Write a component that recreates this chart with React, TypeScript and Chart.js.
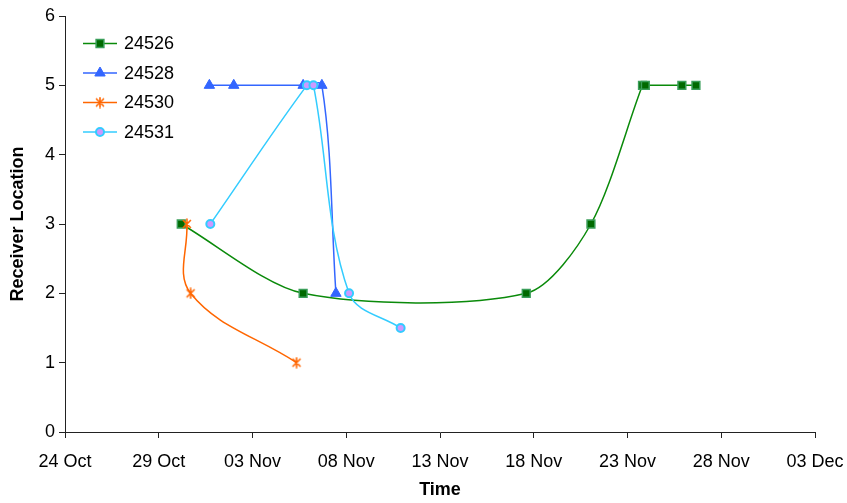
import { useEffect, useRef } from "react";
import { Chart, registerables } from "chart.js";
import { drawPoint } from "chart.js/helpers";

Chart.register(...registerables);

// Time axis: days after 24 Oct, labelled every 5 days
const dateLabels = ["24 Oct", "29 Oct", "03 Nov", "08 Nov", "13 Nov", "18 Nov", "23 Nov", "28 Nov", "03 Dec"];
const dayStep = 5;
const locationMin = 0;
const locationMax = 6;

// Detections per tag: day offset (from 24 Oct) and receiver location
const seriesNames = ["24526", "24528", "24530", "24531"];

const tag24526Days = [6.2, 12.7, 24.6, 28.05, 30.8, 30.95, 32.9, 33.65];
const tag24526Location = [3, 2, 2, 3, 5, 5, 5, 5];

const tag24528Days = [7.7, 9.0, 12.7, 13.7, 14.45];
const tag24528Location = [5, 5, 5, 5, 2];

const tag24530Days = [6.5, 6.7, 12.35];
const tag24530Location = [3, 2, 1];

const tag24531Days = [7.75, 12.9, 13.25, 15.15, 17.9];
const tag24531Location = [3, 5, 5, 2, 1.5];

const FONT = '"Liberation Sans", Arial, Helvetica, sans-serif';
const GREEN = "#0A8A0A";
const BLUE = "#3366FF";
const ORANGE = "#FF6600";
const CYAN = "#33CCFF";

const toPoints = (xs: number[], ys: number[]) => xs.map((x, i) => ({ x, y: ys[i] }));

// Six-armed asterisk marker
function makeAsterisk(color: string, size: number): HTMLCanvasElement {
  const c = document.createElement("canvas");
  c.width = size;
  c.height = size;
  const ctx = c.getContext("2d")!;
  ctx.strokeStyle = color;
  ctx.lineWidth = 1.6;
  ctx.lineCap = "round";
  const m = size / 2;
  const r = size / 2 - 1;
  const d = r * Math.SQRT1_2;
  ctx.beginPath();
  ctx.moveTo(m, m - r);
  ctx.lineTo(m, m + r);
  ctx.moveTo(m - d, m - d);
  ctx.lineTo(m + d, m + d);
  ctx.moveTo(m + d, m - d);
  ctx.lineTo(m - d, m + d);
  ctx.stroke();
  return c;
}

// Key drawn in the upper-left of the plot: line sample, marker and name
const seriesKey = {
  id: "seriesKey",
  afterDraw(chart: any) {
    const ctx = chart.ctx as CanvasRenderingContext2D;
    const left = chart.chartArea.left;
    chart.data.datasets.forEach((ds: any, i: number) => {
      const y = 43.5 + i * 29.5;
      ctx.save();
      ctx.strokeStyle = ds.borderColor;
      ctx.lineWidth = ds.borderWidth;
      ctx.beginPath();
      ctx.moveTo(left + 18, y);
      ctx.lineTo(left + 52, y);
      ctx.stroke();
      ctx.fillStyle = ds.pointBackgroundColor;
      ctx.strokeStyle = ds.pointBorderColor;
      ctx.lineWidth = ds.pointBorderWidth;
      drawPoint(
        ctx,
        { pointStyle: ds.pointStyle, radius: ds.pointRadius, borderWidth: ds.pointBorderWidth, rotation: 0 } as any,
        left + 35,
        y
      );
      ctx.fillStyle = "#000";
      ctx.font = `18px ${FONT}`;
      ctx.textBaseline = "middle";
      ctx.textAlign = "left";
      ctx.fillText(ds.label, left + 59, y + 1);
      ctx.restore();
    });
  },
};

export default function App() {
  const canvasRef = useRef<HTMLCanvasElement>(null);

  useEffect(() => {
    const canvas = canvasRef.current;
    if (!canvas) return;
    const asterisk = makeAsterisk(ORANGE, 12);
    const common = { borderWidth: 1.5, fill: false };

    const chart = new Chart(canvas, {
      type: "line",
      data: {
        datasets: [
          {
            ...common,
            tension: 0.28,
            label: seriesNames[0],
            data: toPoints(tag24526Days, tag24526Location),
            borderColor: GREEN,
            pointStyle: "rect",
            pointRadius: 5.5,
            pointBackgroundColor: "#006A00",
            pointBorderColor: "#3A9E5A",
            pointBorderWidth: 1.5,
            order: 4,
          },
          {
            ...common,
            tension: 0.35,
            label: seriesNames[1],
            data: toPoints(tag24528Days, tag24528Location),
            borderColor: BLUE,
            pointStyle: "triangle",
            pointRadius: 6,
            pointBackgroundColor: BLUE,
            pointBorderColor: BLUE,
            pointBorderWidth: 1,
            order: 3,
          },
          {
            ...common,
            tension: 0.38,
            label: seriesNames[2],
            data: toPoints(tag24530Days, tag24530Location),
            borderColor: ORANGE,
            pointStyle: asterisk,
            pointRadius: 5,
            pointBackgroundColor: ORANGE,
            pointBorderColor: ORANGE,
            pointBorderWidth: 1,
            order: 2,
          },
          {
            ...common,
            tension: 0.35,
            label: seriesNames[3],
            data: toPoints(tag24531Days, tag24531Location),
            borderColor: CYAN,
            pointStyle: "circle",
            pointRadius: 4,
            pointBackgroundColor: "#CC99FF",
            pointBorderColor: CYAN,
            pointBorderWidth: 2,
            order: 1,
          },
        ],
      },
      options: {
        responsive: false,
        maintainAspectRatio: false,
        animation: false,
        devicePixelRatio: 1,
        layout: { padding: { left: 0, top: 16, right: 32, bottom: 0 } },
        plugins: { legend: { display: false }, tooltip: { enabled: false } },
        scales: {
          x: {
            type: "linear",
            min: 0,
            max: (dateLabels.length - 1) * dayStep,
            afterBuildTicks: (scale: any) => {
              scale.ticks = dateLabels.map((_, i) => ({ value: i * dayStep }));
            },
            afterFit: (scale: any) => {
              scale.height = 71;
              scale.paddingLeft = 0;
              scale.paddingRight = 0;
            },
            ticks: {
              autoSkip: false,
              maxRotation: 0,
              color: "#000",
              padding: 13,
              font: { family: FONT, size: 18 },
              callback: (v: any) => dateLabels[Math.round(Number(v) / dayStep)],
            },
            grid: { drawOnChartArea: false, drawTicks: true, tickLength: 6, color: "#222" },
            border: { display: true, color: "#222", width: 1 },
            title: {
              display: true,
              text: "Time",
              color: "#000",
              font: { family: FONT, size: 18, weight: "bold" },
              padding: { top: 0, bottom: 2 },
            },
          },
          y: {
            min: locationMin,
            max: locationMax,
            afterFit: (scale: any) => {
              scale.width = 65;
              scale.paddingTop = 0;
              scale.paddingBottom = 0;
            },
            ticks: {
              stepSize: 1,
              color: "#000",
              padding: 4,
              font: { family: FONT, size: 18 },
            },
            grid: { drawOnChartArea: false, drawTicks: true, tickLength: 6, color: "#222" },
            border: { display: true, color: "#222", width: 1 },
            title: {
              display: true,
              text: "Receiver Location",
              color: "#000",
              font: { family: FONT, size: 18, weight: "bold" },
              padding: { top: 7, bottom: 0 },
            },
          },
        },
      } as any,
      plugins: [seriesKey],
    });

    return () => chart.destroy();
  }, []);

  return (
    <div style={{ position: "absolute", left: 0, top: 0, width: 847, height: 503, background: "#fff" }}>
      <canvas ref={canvasRef} width={847} height={503} style={{ display: "block", width: 847, height: 503 }} />
    </div>
  );
}
